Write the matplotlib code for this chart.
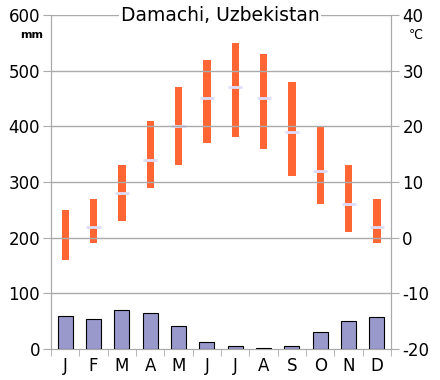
import numpy as np
import matplotlib
matplotlib.use('Agg')
import matplotlib.pyplot as plt

plt.rcParams['axes.unicode_minus'] = False

months = ['J', 'F', 'M', 'A', 'M', 'J', 'J', 'A', 'S', 'O', 'N', 'D']
precip_mm = [59, 54, 70, 64, 41, 13, 5, 1.5, 5, 30, 50, 57]
temp_high = [5, 7, 13, 21, 27, 32, 35, 33, 28, 20, 13, 7]
temp_low = [-4, -1, 3, 9, 13, 17, 18, 16, 11, 6, 1, -1]
temp_mean = [np.nan, 2, 8, 14, 20, 25, 27, 25, 19, 12, 6, 2]

fig = plt.figure(figsize=(4.4, 3.8), dpi=100)
ax = fig.add_axes([0.116, 0.0816, 0.773, 0.879])
ax2 = ax.twinx()

x = np.arange(12) + 0.5
grid_c = '#aaaaaa'

# precipitation
ax.bar(x, precip_mm, width=0.53, color='#9999cc', edgecolor='k', linewidth=0.8, zorder=3)
ax.set_xlim(0, 12)
ax.set_ylim(0, 600)
ax.set_yticks(range(0, 601, 100))
for y in range(100, 601, 100):
    ax.axhline(y, color=grid_c, lw=1, zorder=1)

# temperature
low = np.array(temp_low)
high = np.array(temp_high)
ax2.bar(x, high - low, bottom=low, width=0.26, color='#ff6633', zorder=3)
ax2.hlines(temp_mean, x - 0.25, x + 0.25, color='#ddddff', lw=2, zorder=4)
ax2.set_ylim(-20, 40)
ax2.set_yticks(range(-20, 41, 10))

ax.set_xticks(x)
ax.set_xticklabels(months)
ax.set_xticks(np.arange(13), minor=True)
ax.tick_params(axis='x', which='major', length=0, labelsize=12, pad=6)
ax.tick_params(axis='x', which='minor', length=5, color=grid_c)
ax.tick_params(axis='y', length=6, color=grid_c, labelsize=12, pad=2)
ax2.tick_params(axis='y', length=6, color=grid_c, labelsize=12, pad=2)

for a in (ax, ax2):
    a.spines['top'].set_visible(False)
    for s in ('left', 'right', 'bottom'):
        a.spines[s].set_color(grid_c)

ax.set_zorder(ax2.get_zorder() + 1)
ax.patch.set_visible(False)

fig.text(0.5, 0.958, 'Damachi, Uzbekistan', ha='center', va='center', fontsize=13.5,
         bbox=dict(facecolor='white', edgecolor='none', pad=1))
fig.text(0.072, 0.908, 'mm', ha='center', va='center', fontsize=8, fontweight='bold')
fig.text(0.945, 0.908, '℃', ha='center', va='center', fontsize=9)

fig.savefig('out.png', dpi=100)
